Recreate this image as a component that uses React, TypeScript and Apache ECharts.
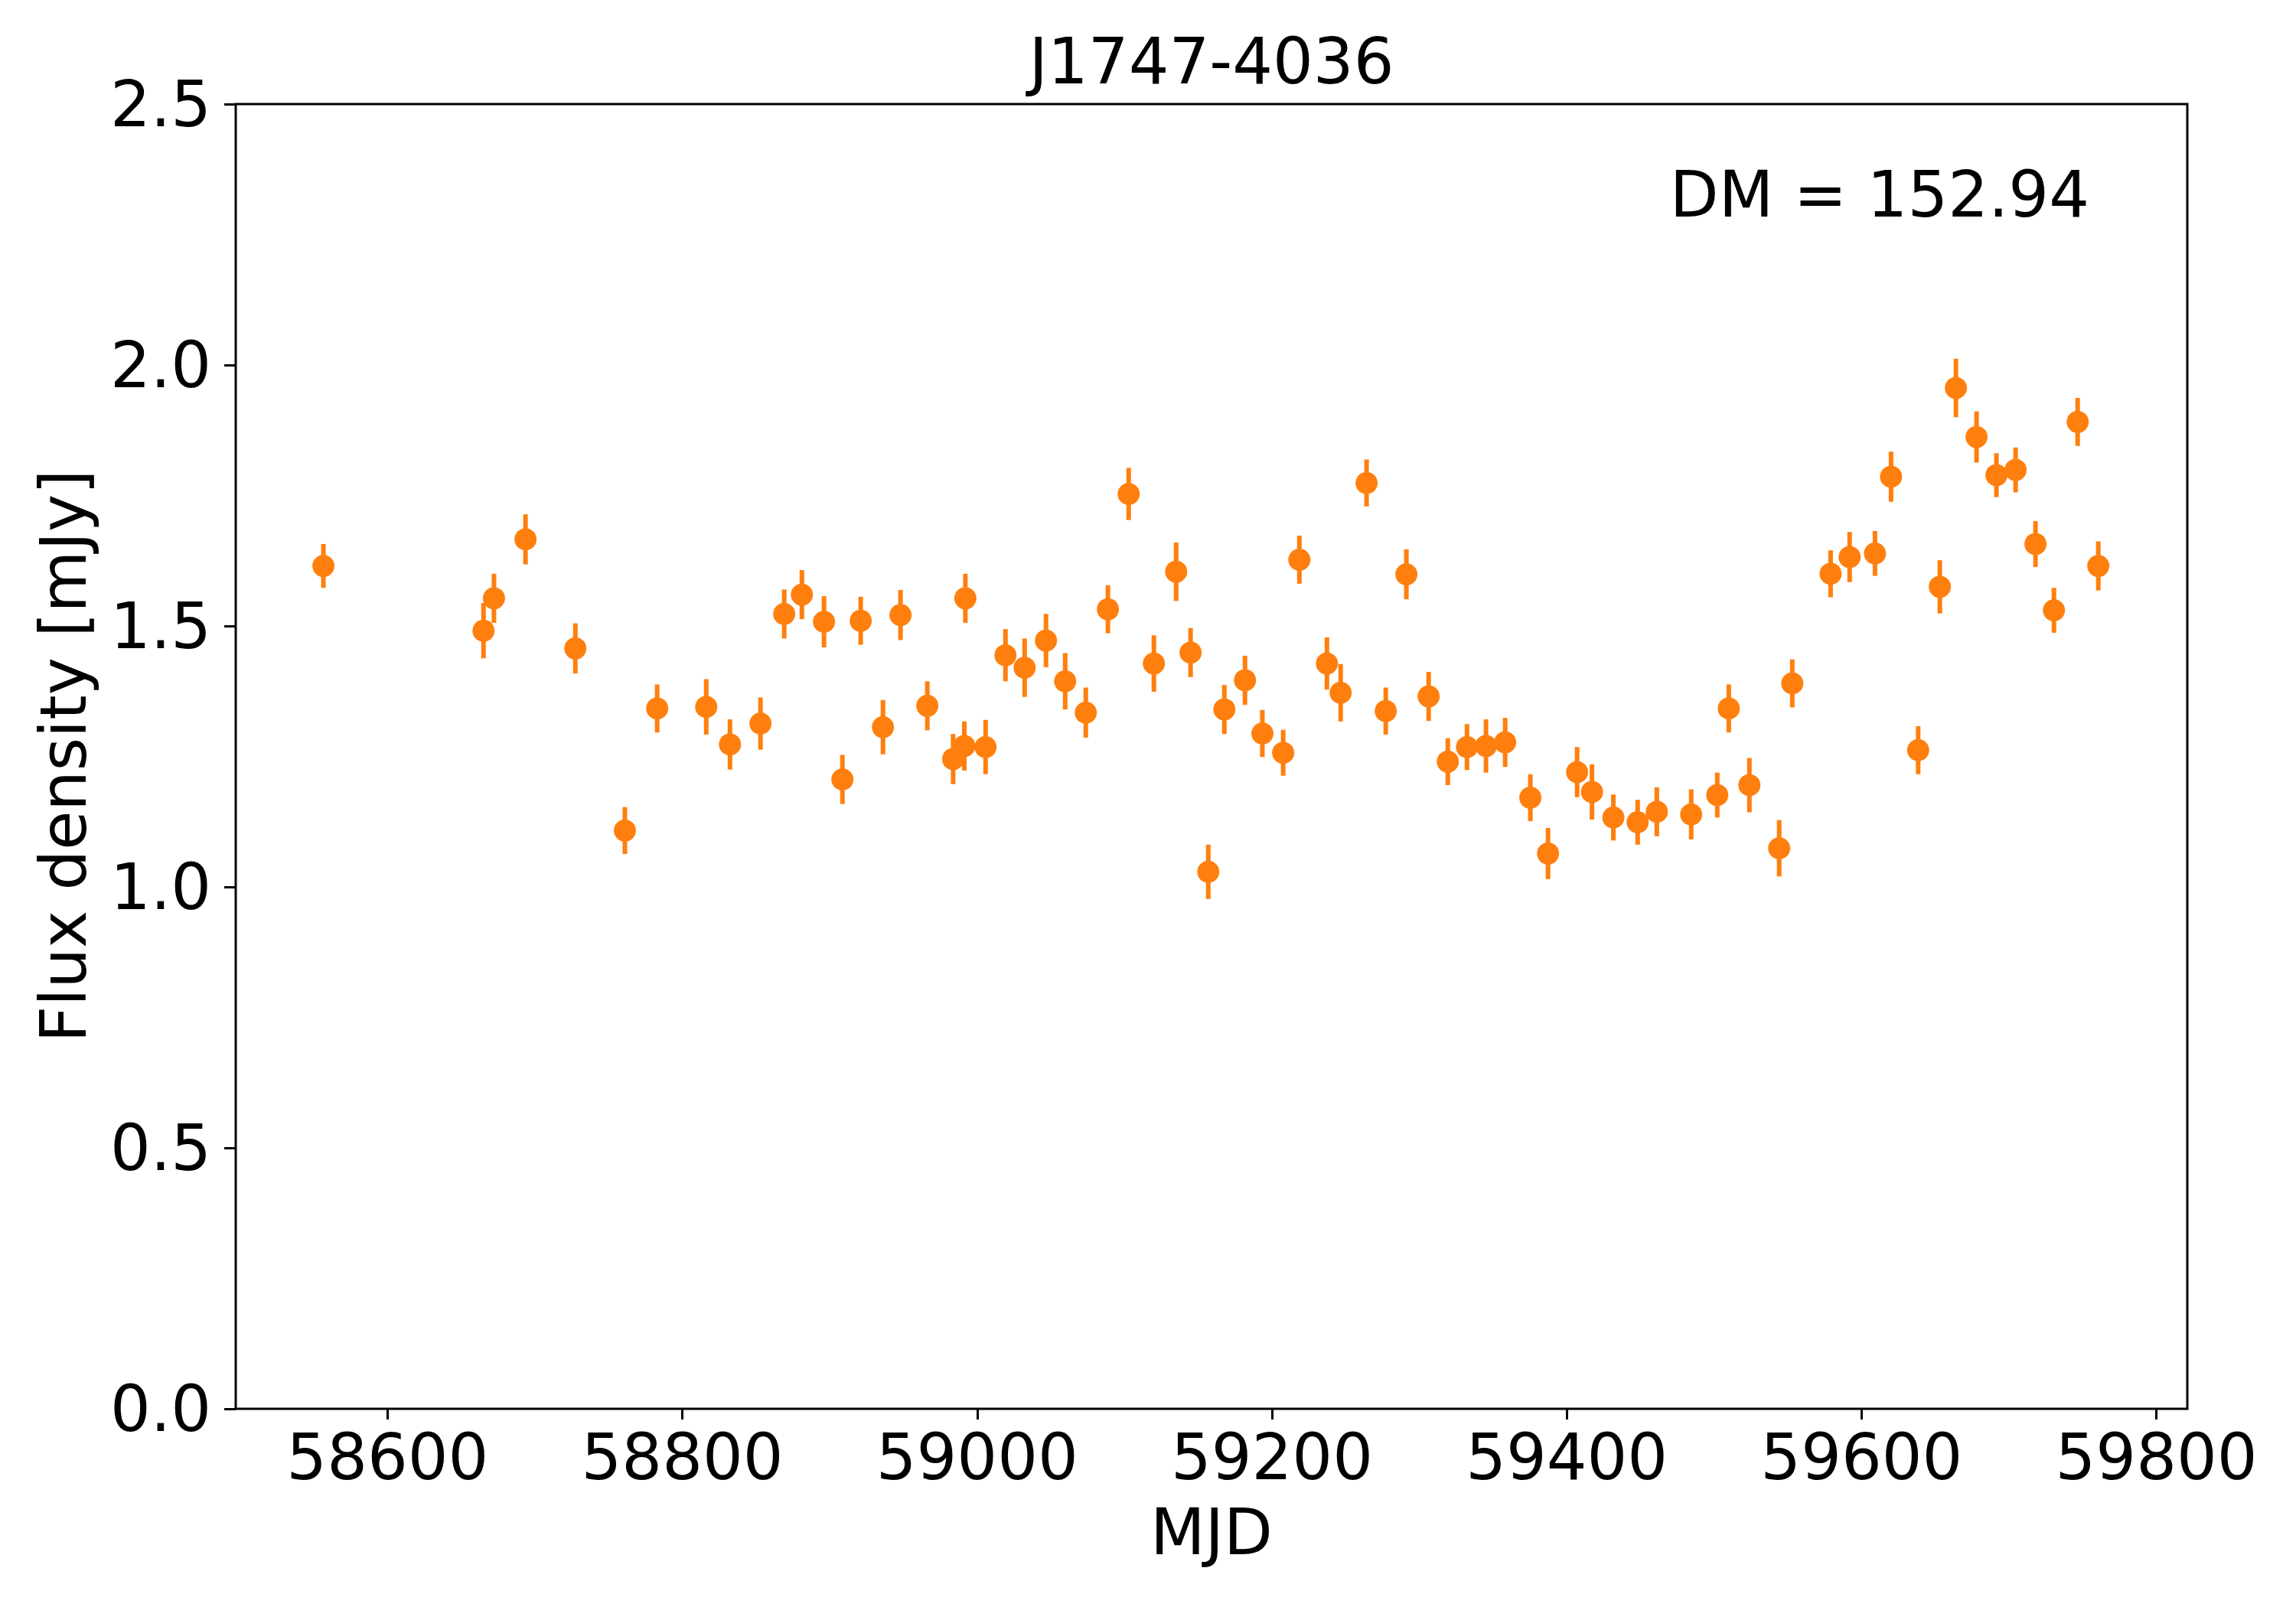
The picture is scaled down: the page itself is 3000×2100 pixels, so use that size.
import React, { useEffect, useRef } from "react";
import * as echarts from "echarts";

const title = "J1747-4036";
const annotation = "DM = 152.94";
const xLabel = "MJD";
const yLabel = "Flux density [mJy]";

const xTicks = [58600, 58800, 59000, 59200, 59400, 59600, 59800];
const yTicks = [0, 0.5, 1.0, 1.5, 2.0, 2.5];

const mjd = [
  58556.5, 58665.1, 58672.2, 58693.6, 58727.4, 58761.0, 58782.9, 58816.2, 58832.3, 58853.0,
  58869.1, 58881.1, 58896.1, 58908.6, 58921.0, 58936.1, 58948.0, 58966.2, 58983.7, 58991.3,
  58992.0, 59005.7, 59019.2, 59032.2, 59046.7, 59059.7, 59073.7, 59088.7, 59102.8, 59119.9,
  59135.0, 59144.8, 59156.8, 59167.7, 59181.7, 59193.5, 59207.6, 59218.6, 59237.3, 59246.6,
  59264.2, 59277.2, 59291.2, 59306.3, 59319.3, 59332.3, 59345.2, 59358.2, 59375.3, 59387.3,
  59407.0, 59417.1, 59431.6, 59448.1, 59461.1, 59484.4, 59502.1, 59509.9, 59523.9, 59544.1,
  59553.0, 59579.0, 59591.9, 59609.1, 59620.0, 59638.4, 59653.1, 59664.0, 59678.0, 59691.5,
  59704.5, 59718.0, 59730.5, 59746.6, 59760.6,
];

const flux = [
  1.615, 1.491, 1.553, 1.666, 1.457, 1.108, 1.342, 1.345, 1.273, 1.313,
  1.523, 1.560, 1.508, 1.206, 1.510, 1.306, 1.521, 1.347, 1.245, 1.270,
  1.553, 1.268, 1.444, 1.420, 1.472, 1.394, 1.334, 1.532, 1.753, 1.428,
  1.604, 1.449, 1.029, 1.340, 1.396, 1.294, 1.257, 1.627, 1.428, 1.372,
  1.774, 1.337, 1.599, 1.365, 1.240, 1.268, 1.270, 1.277, 1.171, 1.064,
  1.220, 1.182, 1.133, 1.124, 1.144, 1.139, 1.176, 1.342, 1.195, 1.074,
  1.390, 1.600, 1.632, 1.639, 1.786, 1.262, 1.575, 1.956, 1.862, 1.789,
  1.799, 1.657, 1.530, 1.891, 1.615,
];

const fluxErr = [
  0.042, 0.053, 0.047, 0.048, 0.048, 0.045, 0.046, 0.053, 0.048, 0.050,
  0.047, 0.047, 0.049, 0.047, 0.046, 0.052, 0.048, 0.047, 0.048, 0.047,
  0.047, 0.052, 0.050, 0.056, 0.051, 0.054, 0.048, 0.046, 0.050, 0.054,
  0.056, 0.047, 0.052, 0.047, 0.047, 0.045, 0.044, 0.046, 0.050, 0.055,
  0.045, 0.045, 0.048, 0.047, 0.045, 0.044, 0.051, 0.047, 0.045, 0.049,
  0.048, 0.053, 0.044, 0.043, 0.047, 0.048, 0.043, 0.046, 0.052, 0.054,
  0.046, 0.045, 0.048, 0.043, 0.048, 0.046, 0.051, 0.056, 0.049, 0.042,
  0.043, 0.044, 0.043, 0.046, 0.047,
];

const COLOR = "#ff7f0e";
const FONT = "'DejaVu Sans', sans-serif";
const FS = 83;

export default function App() {
  const ref = useRef<HTMLDivElement>(null);

  useEffect(() => {
    document.body.style.margin = "0";
    document.body.style.overflow = "hidden";
    if (!ref.current) return;
    const chart = echarts.init(ref.current, null, { renderer: "svg" });

    const data = mjd.map((m, i) => [m, flux[i], fluxErr[i]]);

    const option: any = {
      animation: false,
      backgroundColor: "#ffffff",
      grid: {
        left: 308,
        right: 142,
        top: 136,
        bottom: 259,
        show: true,
        borderColor: "#000",
        borderWidth: 3,
        backgroundColor: "transparent",
        containLabel: false,
      },
      xAxis: {
        type: "value",
        min: 58497,
        max: 59821,
        splitLine: { show: false },
        axisLine: { show: false },
        axisTick: {
          show: true,
          length: 14,
          lineStyle: { color: "#000", width: 3 },
          customValues: xTicks,
        },
        axisLabel: {
          show: true,
          margin: 22,
          fontFamily: FONT,
          fontSize: FS,
          color: "#000",
          customValues: xTicks,
          formatter: (v: number) => String(v),
        },
      },
      yAxis: {
        type: "value",
        min: 0,
        max: 2.5,
        interval: 0.5,
        splitLine: { show: false },
        axisLine: { show: false },
        axisTick: {
          show: true,
          length: 15,
          lineStyle: { color: "#000", width: 3 },
          customValues: yTicks,
        },
        axisLabel: {
          show: true,
          margin: 32,
          fontFamily: FONT,
          fontSize: FS,
          color: "#000",
          customValues: yTicks,
          formatter: (v: number) => v.toFixed(1),
        },
      },
      series: [
        {
          type: "custom",
          data,
          encode: { x: 0, y: 1 },
          z: 2,
          renderItem: (params: any, api: any) => {
            const x = api.value(0);
            const y = api.value(1);
            const e = api.value(2);
            const p1 = api.coord([x, y - e]);
            const p2 = api.coord([x, y + e]);
            return {
              type: "line",
              shape: { x1: p1[0], y1: p1[1], x2: p2[0], y2: p2[1] },
              style: { stroke: COLOR, lineWidth: 6 },
            };
          },
        },
        {
          type: "scatter",
          data: mjd.map((m, i) => [m, flux[i]]),
          symbol: "circle",
          symbolSize: 29,
          itemStyle: { color: COLOR, opacity: 1 },
          z: 3,
        },
      ],
      graphic: [
        {
          type: "text",
          x: 1583,
          y: 80,
          style: {
            text: title,
            font: `${FS}px ${FONT}`,
            fill: "#000",
            textAlign: "center",
            textVerticalAlign: "middle",
          },
        },
        {
          type: "text",
          x: 2730,
          y: 254,
          style: {
            text: annotation,
            font: `${FS}px ${FONT}`,
            fill: "#000",
            textAlign: "right",
            textVerticalAlign: "middle",
          },
        },
        {
          type: "text",
          x: 1583,
          y: 2002,
          style: {
            text: xLabel,
            font: `${FS}px ${FONT}`,
            fill: "#000",
            textAlign: "center",
            textVerticalAlign: "middle",
          },
        },
        {
          type: "text",
          x: 83,
          y: 988,
          rotation: Math.PI / 2,
          style: {
            text: yLabel,
            font: `${FS}px ${FONT}`,
            fill: "#000",
            textAlign: "center",
            textVerticalAlign: "middle",
          },
        },
      ],
    };

    chart.setOption(option);
    return () => {
      chart.dispose();
    };
  }, []);

  return <div ref={ref} style={{ width: 3000, height: 2100 }} />;
}
